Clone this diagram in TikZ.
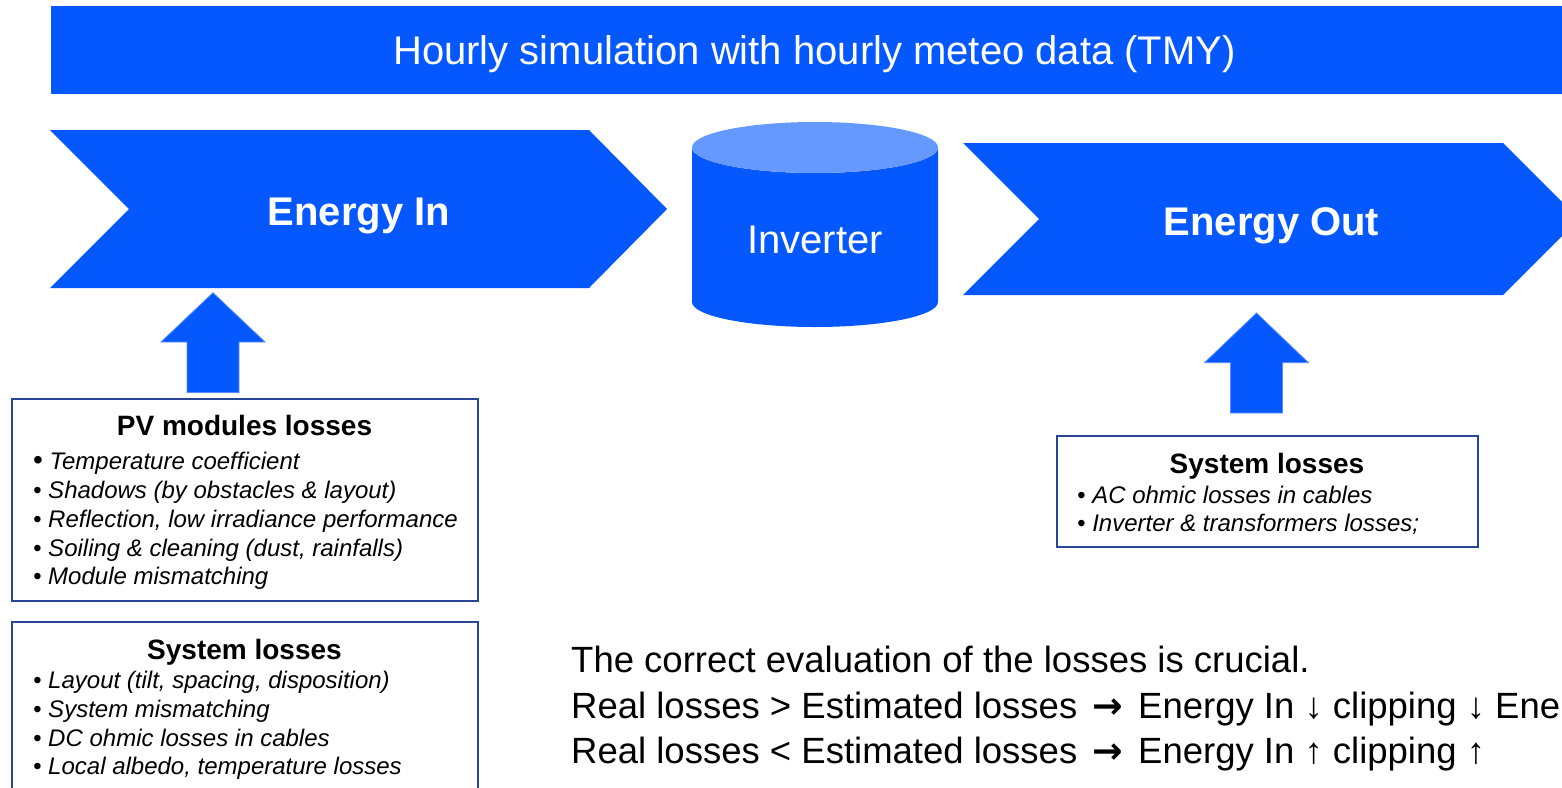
\documentclass[tikz,border=0pt]{standalone}
\usepackage{fontspec}
\setmainfont{Liberation Sans}
\newfontfamily\arrowfont{DejaVu Sans}
\definecolor{mainblue}{RGB}{5,88,254}
\definecolor{lightblue}{RGB}{102,153,255}
\definecolor{edgeblue}{RGB}{90,140,255}
\definecolor{boxborder}{RGB}{40,70,150}
\newcommand{\blockuparrow}[4]{%
  \filldraw[fill=mainblue,draw=edgeblue,line width=0.8pt]
    (#1,#2) -- (#1+52,#3) -- (#1+26,#3) -- (#1+26,#4) -- (#1-26,#4)
    -- (#1-26,#3) -- (#1-52,#3) -- cycle;}
\newcommand{\heavyarrow}{\ \hspace{5pt}{\arrowfont\bfseries →}\hspace{5pt}\ }
\begin{document}
\begin{tikzpicture}[x=1pt,y=-1pt,
  lbl/.style={inner sep=0pt, anchor=base},
  bigwhite/.style={lbl, text=white, font=\fontsize{40}{48}\selectfont},
  item/.style={inner sep=0pt, anchor=base west, font=\fontsize{24}{29}\selectfont\itshape},
  boxtitle/.style={lbl, font=\fontsize{28}{34}\selectfont\bfseries},
  lossbox/.style={draw=boxborder, line width=2pt, fill=white},
  note/.style={inner sep=0pt, anchor=base west, font=\fontsize{36.5}{45}\selectfont},
]
\useasboundingbox (0,0) rectangle (1562,787);
\clip (0,0) rectangle (1562,787);

% title banner
\fill[mainblue] (51,6) rectangle (1570,94);
\node[bigwhite] (title) at (814.5,64) {Hourly simulation with hourly meteo data (TMY)};

% Energy In chevron
\fill[mainblue] (50,130) -- (589,130) -- (667,209) -- (589,288) -- (50,288) -- (129,209) -- cycle;
\node[bigwhite, font=\fontsize{40}{48}\selectfont\bfseries] (ein) at (359,225) {Energy In};

% Inverter cylinder
\fill[mainblue] (692,147.5) -- (692,302) arc[start angle=180,end angle=0,x radius=123,y radius=25]
  -- (938,147.5) arc[start angle=0,end angle=180,x radius=123,y radius=25.5] -- cycle;
\fill[lightblue] (815,147.5) ellipse[x radius=123,y radius=25.5];
\node[bigwhite] (inv) at (815,253) {Inverter};

% Energy Out chevron
\fill[mainblue] (963,143) -- (1503,143) -- (1579,219) -- (1503,295) -- (963,295) -- (1039,219) -- cycle;
\node[bigwhite, font=\fontsize{40}{48}\selectfont\bfseries] (eout) at (1271.5,235) {Energy Out};

% up arrows
\blockuparrow{213}{292.7}{342}{392.7}
\blockuparrow{1256.5}{313}{362.7}{413}

% PV modules losses box
\draw[lossbox] (11.5,398.5) rectangle (478,601);
\node[boxtitle] (pvt) at (244.5,435) {PV modules losses};
\node[item] (pv1) at (33,469) {{\upshape\fontsize{28}{29}\selectfont•} Temperature coefficient};
\node[item] (pv2) at (33,498) {• Shadows (by obstacles \& layout)};
\node[item] (pv3) at (33,527) {• Reflection, low irradiance performance};
\node[item] (pv4) at (33,556) {• Soiling \& cleaning (dust, rainfalls)};
\node[item] (pv5) at (33,584) {• Module mismatching};

% System losses box (left)
\draw[lossbox] (11.5,622) rectangle (478,800);
\node[boxtitle] (slt) at (244.5,659) {System losses};
\node[item] (sl1) at (33,688) {• Layout (tilt, spacing, disposition)};
\node[item] (sl2) at (33,717) {• System mismatching};
\node[item] (sl3) at (33,746) {• DC ohmic losses in cables};
\node[item] (sl4) at (33,774) {• Local albedo, temperature losses};

% System losses box (right)
\draw[lossbox] (1056.5,436) rectangle (1477.5,547);
\node[boxtitle] (srt) at (1267,473) {System losses};
\node[item] (sr1) at (1077,503) {• AC ohmic losses in cables};
\node[item] (sr2) at (1077,531) {• Inverter \& transformers losses;};

% bottom notes
\node[note] (n1) at (571,672) {The correct evaluation of the losses is crucial.};
\node[note] (n2) at (571,718) {Real losses > Estimated losses\heavyarrow Energy In ↓ clipping ↓ Ene};
\node[note] (n3) at (571,763) {Real losses < Estimated losses\heavyarrow Energy In ↑ clipping ↑};
\end{tikzpicture}
\end{document}
